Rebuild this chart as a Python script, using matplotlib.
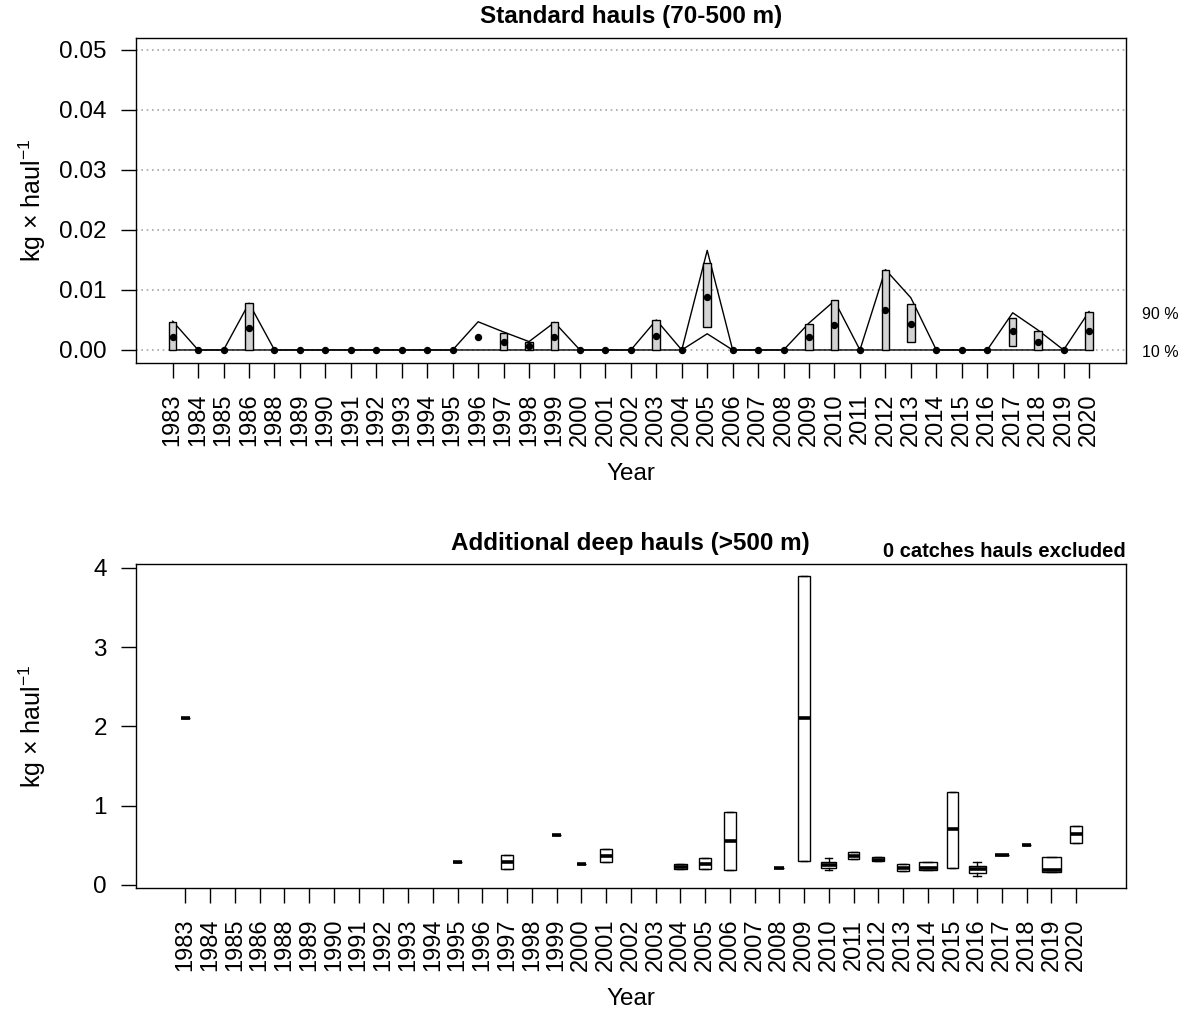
import numpy as np
import matplotlib
matplotlib.use("Agg")
import matplotlib.pyplot as plt

plt.rcParams['font.family'] = ['Liberation Sans', 'DejaVu Sans']
plt.rcParams['mathtext.fontset'] = 'custom'
plt.rcParams['mathtext.rm'] = 'Liberation Sans'
plt.rcParams['mathtext.it'] = 'Liberation Sans:italic'

years = [1983, 1984, 1985, 1986, 1988, 1989, 1990, 1991, 1992, 1993, 1994,
         1995, 1996, 1997, 1998, 1999, 2000, 2001, 2002, 2003, 2004, 2005,
         2006, 2007, 2008, 2009, 2010, 2011, 2012, 2013, 2014, 2015, 2016,
         2017, 2018, 2019, 2020]

# standard hauls: mean, bar limits and 10 / 90 % lines (kg x haul-1)
std_mean = [0.0022, 0, 0, 0.0037, 0, 0, 0, 0, 0, 0, 0,
            0, 0.0022, 0.0014, 0.0006, 0.0022, 0, 0, 0, 0.0024, 0, 0.0089,
            0, 0, 0, 0.0021, 0.0041, 0, 0.0066, 0.0043, 0, 0, 0,
            0.0031, 0.0014, 0, 0.0031]
std_lo = [0, 0, 0, 0, 0, 0, 0, 0, 0, 0, 0,
          0, 0.0022, 0, 0, 0, 0, 0, 0, 0, 0, 0.0038,
          0, 0, 0, 0, 0, 0, 0, 0.0013, 0, 0, 0,
          0.0006, 0, 0, 0]
std_hi = [0.0047, 0, 0, 0.0078, 0, 0, 0, 0, 0, 0, 0,
          0, 0.0022, 0.0029, 0.0013, 0.0047, 0, 0, 0, 0.0050, 0, 0.0145,
          0, 0, 0, 0.0044, 0.0084, 0, 0.0134, 0.0077, 0, 0, 0,
          0.0054, 0.0031, 0, 0.0064]
std_q90 = [0.0048, 0, 0, 0.0078, 0, 0, 0, 0, 0, 0, 0,
           0, 0.0047, 0.0030, 0.0014, 0.0046, 0, 0, 0, 0.0050, 0, 0.0166,
           0, 0, 0, 0.0045, 0.0082, 0, 0.0134, 0.0087, 0, 0, 0,
           0.0062, 0.0033, 0, 0.0064]
std_q10 = [0, 0, 0, 0, 0, 0, 0, 0, 0, 0, 0,
           0, 0, 0, 0, 0, 0, 0, 0, 0, 0, 0.0027,
           0, 0, 0, 0, 0, 0, 0, 0, 0, 0, 0,
           0, 0, 0, 0]

# deep hauls boxplots (zero catches excluded)
deep_years = [1983, 1995, 1997, 1999, 2000, 2001, 2004, 2005, 2006, 2008,
              2009, 2010, 2011, 2012, 2013, 2014, 2015, 2016, 2017, 2018,
              2019, 2020]
deep_q1 = [2.10, 0.285, 0.20, 0.63, 0.27, 0.285, 0.20, 0.20, 0.19, 0.22,
           0.30, 0.22, 0.33, 0.30, 0.17, 0.185, 0.22, 0.145, 0.38, 0.51,
           0.16, 0.53]
deep_med = [2.10, 0.285, 0.29, 0.63, 0.27, 0.37, 0.23, 0.27, 0.55, 0.22,
            2.10, 0.25, 0.37, 0.32, 0.22, 0.21, 0.70, 0.20, 0.38, 0.51,
            0.19, 0.64]
deep_q3 = [2.10, 0.285, 0.38, 0.63, 0.27, 0.45, 0.27, 0.335, 0.915, 0.22,
           3.89, 0.29, 0.41, 0.35, 0.27, 0.285, 1.17, 0.24, 0.38, 0.51,
           0.35, 0.74]
deep_wlo = [2.10, 0.285, 0.20, 0.63, 0.27, 0.285, 0.20, 0.20, 0.19, 0.22,
            0.30, 0.19, 0.33, 0.30, 0.17, 0.185, 0.22, 0.11, 0.38, 0.51,
            0.16, 0.53]
deep_whi = [2.10, 0.285, 0.38, 0.63, 0.27, 0.45, 0.27, 0.335, 0.915, 0.22,
            3.89, 0.335, 0.41, 0.35, 0.27, 0.285, 1.17, 0.285, 0.38, 0.51,
            0.35, 0.74]
# box widths follow the number of hauls
deep_width = [0.33, 0.39, 0.51, 0.37, 0.35, 0.47, 0.51, 0.48, 0.47, 0.39,
              0.46, 0.59, 0.48, 0.50, 0.48, 0.74, 0.47, 0.67, 0.54, 0.37,
              0.78, 0.47]

W, H = 1189, 1010
fig = plt.figure(figsize=(W / 100, H / 100), dpi=100)

x = np.arange(len(years))
ylab = 'kg × haul$^{-1}$'
fs = 17.5


def style_axis(ax):
    for s in ax.spines.values():
        s.set_linewidth(1.0)
    ax.tick_params(axis='both', direction='out', length=11, width=1,
                   pad=10, labelsize=fs)
    ax.tick_params(axis='x', labelsize=17, pad=11)
    ax.set_xticks(x)
    ax.set_xticklabels([str(y) for y in years], rotation=90)
    ax.set_xlabel('Year', fontsize=fs, labelpad=12)
    ax.set_ylabel(ylab, fontsize=18)
    # same label line for both panels
    ax.yaxis.set_label_coords(-0.089, 0.5)


# --- standard hauls ---
ax1 = fig.add_axes([136 / W, 1 - 362.7 / H, (1125.7 - 136) / W, (362.7 - 38.3) / H])
ax1.set_xlim(-1.44, 37.44)
ax1.set_ylim(-0.00212, 0.05194)
ax1.set_yticks([0, 0.01, 0.02, 0.03, 0.04, 0.05])
ax1.set_yticklabels(['0.00', '0.01', '0.02', '0.03', '0.04', '0.05'])
for g in [0, 0.01, 0.02, 0.03, 0.04, 0.05]:
    ax1.axhline(g, color='#a5a5a5', linestyle=(0, (1.0, 2.2)), lw=1.2, zorder=0)

ax1.plot(x, std_q90, color='black', lw=1, zorder=2)
ax1.plot(x, std_q10, color='black', lw=1, zorder=2)

lo = np.array(std_lo)
hi = np.array(std_hi)
has_bar = hi > lo
ax1.bar(x[has_bar], (hi - lo)[has_bar], bottom=lo[has_bar], width=0.3,
        color='#d3d3d3', edgecolor='black', linewidth=1, zorder=3)
ax1.plot(x, std_mean, 'o', color='black', markersize=4.3, zorder=4)

ax1.text(1.016, std_q90[-1] - 0.0005, '90 %', transform=ax1.get_yaxis_transform(),
         ha='left', va='center', fontsize=11.5)
ax1.text(1.016, std_q10[-1] - 0.0005, '10 %', transform=ax1.get_yaxis_transform(),
         ha='left', va='center', fontsize=11.5)
ax1.set_title('Standard hauls (70-500 m)', fontsize=17.5, fontweight='bold', pad=11)
style_axis(ax1)

# --- additional deep hauls ---
ax2 = fig.add_axes([136 / W, 1 - 888.3 / H, (1125.7 - 136) / W, (888.3 - 564) / H])
pos = [years.index(y) for y in deep_years]
stats = []
for i in range(len(deep_years)):
    stats.append({'med': deep_med[i], 'q1': deep_q1[i], 'q3': deep_q3[i],
                  'whislo': deep_wlo[i], 'whishi': deep_whi[i], 'fliers': []})
ax2.bxp(stats, positions=pos, widths=deep_width, showfliers=False,
        patch_artist=True,
        boxprops=dict(facecolor='white', edgecolor='black', linewidth=1),
        medianprops=dict(color='black', linewidth=2.6, solid_capstyle='butt'),
        whiskerprops=dict(color='black', linewidth=1),
        capprops=dict(color='black', linewidth=1),
        manage_ticks=False)
ax2.set_xlim(-2, 38)
ax2.set_ylim(-0.042, 4.047)
ax2.set_yticks([0, 1, 2, 3, 4])
ax2.set_title('Additional deep hauls (>500 m)', fontsize=17.5, fontweight='bold', pad=10)
ax2.text(1.0, 1.01, '0 catches hauls excluded', transform=ax2.transAxes,
         ha='right', va='bottom', fontsize=14.5, fontweight='bold')
style_axis(ax2)

fig.savefig('out.png', dpi=100)
